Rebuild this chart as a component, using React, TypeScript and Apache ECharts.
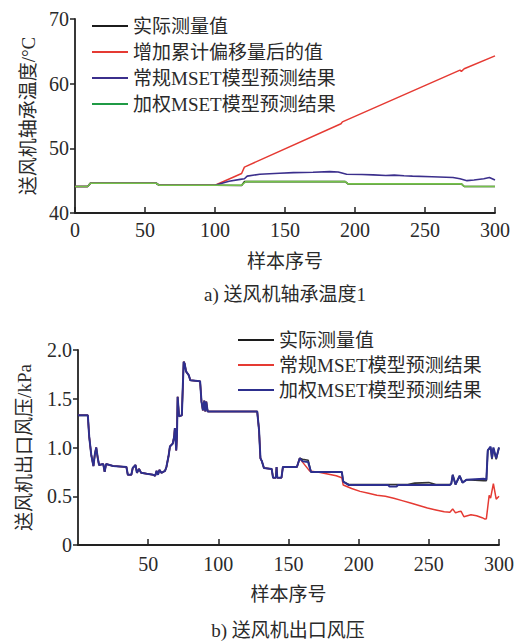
import React, { useEffect, useRef } from "react";
import * as echarts from "echarts";

// ---------- Chart a) 送风机轴承温度1 ----------
const tempNames = ["实际测量值", "增加累计偏移量后的值", "常规MSET模型预测结果", "加权MSET模型预测结果"];
const tempXTicks = [0, 50, 100, 150, 200, 250, 300];
const tempYTicks = [40, 50, 60, 70];

// samples 0-100: all series coincide
const tempShared: number[][] = [
  [0, 44.1], [9, 44.1], [11, 44.6], [58, 44.6], [60, 44.3], [100, 44.3],
];
const tempActualTail: number[][] = [
  [119, 44.25], [121, 44.85], [193, 44.85], [195, 44.5], [276, 44.5], [278, 44.1], [300, 44.1],
];
const tempDriftTail: number[][] = [
  [119, 46.1], [121, 47.1], [190, 53.8], [191, 54.1], [275, 62.1], [276, 61.9], [278, 62.3], [300, 64.3],
];
const tempConventionalTail: number[][] = [
  [105, 44.6], [110, 44.9], [118, 45.2], [121, 45.3], [123, 45.7], [132, 46.0], [146, 46.15],
  [156, 46.25], [170, 46.3], [182, 46.4], [188, 46.35], [194, 46.0], [205, 45.95], [213, 45.9],
  [222, 45.8], [228, 45.85], [235, 45.75], [241, 45.7], [255, 45.6], [270, 45.5], [275, 45.3],
  [280, 45.0], [285, 45.1], [292, 45.3], [296, 45.5], [300, 45.1],
];
const tempWeightedTail: number[][] = [
  [119, 44.3], [122, 44.85], [193, 44.85], [195, 44.5], [276, 44.5], [278, 44.1], [300, 44.1],
];

// ---------- Chart b) 送风机出口风压 ----------
const presNames = ["实际测量值", "常规MSET模型预测结果", "加权MSET模型预测结果"];
const presXTicks = [0, 50, 100, 150, 200, 250, 300];
const presYTicks = [0, 0.5, 1.0, 1.5, 2.0];

// samples 0-158: all series coincide
const presShared: number[][] = [
  [0, 1.33], [7, 1.33], [8, 1.11], [9.5, 0.92], [11, 0.81], [12, 0.93], [13, 1.0], [14, 0.9],
  [15, 0.82], [18, 0.83], [19, 0.75], [20, 0.83], [25, 0.81], [34.5, 0.8], [35.5, 0.72], [38, 0.72],
  [39, 0.79], [41, 0.82], [42, 0.74], [43.5, 0.78], [45, 0.74], [49, 0.73], [53.5, 0.72], [55, 0.71],
  [56, 0.76], [57, 0.72], [58, 0.77], [59.5, 0.74], [62, 0.76], [63, 0.8], [64.5, 0.91], [65.5, 1.01],
  [67.5, 1.04], [68.5, 1.11], [69, 1.2], [70, 0.97], [70.5, 1.11], [71, 1.52], [72, 1.32], [74, 1.33],
  [75.3, 1.88], [76, 1.86], [77, 1.78], [79, 1.74], [80, 1.69], [87, 1.68], [88, 1.47], [89, 1.38],
  [90, 1.48], [90.7, 1.37], [91.4, 1.47], [92.4, 1.37], [127.7, 1.37], [129, 1.18], [130, 0.89],
  [131, 0.86], [132.5, 0.79], [138, 0.78], [139, 0.69], [141, 0.69], [141.5, 0.8], [142, 0.69],
  [145, 0.69], [146, 0.8], [156, 0.8], [158, 0.89],
];
const presActualTail: number[][] = [
  [160, 0.88], [164, 0.87], [166, 0.75], [188, 0.75], [189, 0.65], [193, 0.62], [235, 0.62],
  [240, 0.635], [250, 0.64], [255, 0.62], [265, 0.62], [266, 0.63], [267, 0.72], [269, 0.62],
  [272, 0.71], [274, 0.64], [277, 0.67], [289, 0.66], [291, 0.66], [292, 0.97], [294, 1.0],
  [295, 0.88], [296, 0.99], [298, 0.88], [300, 1.0],
];
const presConventionalTail: number[][] = [
  [160, 0.85], [165, 0.76], [170, 0.75], [177, 0.73], [184, 0.71], [188, 0.69], [189, 0.615],
  [195, 0.58], [201, 0.55], [207, 0.53], [213, 0.51], [219, 0.5], [225, 0.48], [231, 0.455],
  [237, 0.43], [243, 0.405], [249, 0.38], [255, 0.36], [261, 0.34], [265, 0.335], [267, 0.37],
  [269, 0.33], [271, 0.34], [273, 0.345], [275, 0.29], [280, 0.31], [284, 0.3], [288, 0.28],
  [290, 0.265], [291, 0.27], [293, 0.51], [294, 0.48], [296, 0.63], [298, 0.47], [300, 0.5],
];
const presWeightedTail: number[][] = [
  [160, 0.86], [164, 0.85], [166, 0.75], [188, 0.75], [189, 0.65], [193, 0.615], [221, 0.615],
  [222, 0.6], [227, 0.6], [228, 0.615], [265, 0.615], [266, 0.63], [267, 0.72], [269, 0.62],
  [272, 0.71], [274, 0.64], [277, 0.67], [289, 0.68], [291, 0.67], [292, 0.97], [294, 1.01],
  [295, 0.89], [296, 1.0], [298, 0.89], [300, 1.0],
];

const FONT = "'Liberation Serif', 'Times New Roman', 'Noto Sans CJK SC', serif";
const TXT = "#2a2a2a";
const AX = "#222";

function legendItem(name: string, color: string, left: number, top: number) {
  return {
    show: true,
    left,
    top,
    padding: 0,
    orient: "horizontal",
    icon: "rect",
    itemWidth: 36,
    itemHeight: 2,
    selectedMode: false,
    data: [{ name, itemStyle: { color } }],
    textStyle: { fontFamily: FONT, fontSize: 19, color: TXT, lineHeight: 20 },
  };
}

function xAxis(min: number, max: number, ticks: number[], nameGap: number, labelMargin: number, hideMin: boolean) {
  return {
    type: "value",
    min,
    max,
    interval: ticks[1] - ticks[0],
    name: "样本序号",
    nameLocation: "middle",
    nameGap,
    nameTextStyle: { fontFamily: FONT, fontSize: 19, color: TXT },
    axisLine: { show: true, lineStyle: { color: AX, width: 1.8 } },
    axisTick: { show: true, inside: true, length: 6, lineStyle: { color: AX, width: 1.5 } },
    axisLabel: { fontFamily: FONT, fontSize: 20, color: TXT, margin: labelMargin, showMinLabel: !hideMin },
    splitLine: { show: false },
  };
}

function yAxis(min: number, max: number, ticks: number[], name: string, nameGap: number, fmt?: (v: number) => string) {
  return {
    type: "value",
    min,
    max,
    interval: ticks[1] - ticks[0],
    name,
    nameLocation: "middle",
    nameGap,
    nameTextStyle: { fontFamily: FONT, fontSize: 19, color: TXT },
    axisLine: { show: true, lineStyle: { color: AX, width: 1.8 } },
    axisTick: { show: true, inside: false, length: 5, lineStyle: { color: AX, width: 1.5 } },
    axisLabel: { fontFamily: FONT, fontSize: 20, color: TXT, margin: 6, formatter: fmt },
    splitLine: { show: false },
  };
}

function line(name: string, data: number[][], color: string, width: number, z: number) {
  return {
    type: "line",
    name,
    data,
    showSymbol: false,
    symbol: "none",
    lineStyle: { color, width },
    itemStyle: { color },
    z,
  };
}

export default function App() {
  const topRef = useRef<HTMLDivElement>(null);
  const botRef = useRef<HTMLDivElement>(null);

  useEffect(() => {
    const c1 = echarts.init(topRef.current!, undefined, { renderer: "svg" });
    const c2 = echarts.init(botRef.current!, undefined, { renderer: "svg" });

    const cBlack = "#1c1c1c";
    const cRed = "#e53a33";
    const cPurple = "#3b2f8c";
    const cGreen = "#74c24a";
    const cBlue = "#2d2f8e";

    c1.setOption({
      animation: false,
      backgroundColor: "#ffffff",
      grid: { left: 75, right: 26, top: 19, height: 194 },
      xAxis: xAxis(0, 300, tempXTicks, 39, 7, false),
      yAxis: yAxis(40, 70, tempYTicks, "送风机轴承温度/°C", 37),
      legend: [
        legendItem(tempNames[0], cBlack, 92, 16),
        legendItem(tempNames[1], cRed, 92, 42),
        legendItem(tempNames[2], cPurple, 92, 68),
        legendItem(tempNames[3], "#1f9a45", 92, 94),
      ],
      series: [
        line(tempNames[0], tempShared.concat(tempActualTail), cBlack, 1.6, 2),
        line(tempNames[1], tempShared.concat(tempDriftTail), cRed, 1.5, 3),
        line(tempNames[2], tempShared.concat(tempConventionalTail), cPurple, 1.6, 4),
        line(tempNames[3], tempShared.concat(tempWeightedTail), cGreen, 1.6, 5),
      ],
      graphic: [
        {
          type: "text",
          x: 285,
          y: 294,
          style: { text: "a) 送风机轴承温度1", fill: TXT, font: `19px ${FONT}`, align: "center", verticalAlign: "middle" },
        },
      ],
    });

    c2.setOption({
      animation: false,
      backgroundColor: "#ffffff",
      grid: { left: 78, right: 22, top: 30, height: 195 },
      xAxis: xAxis(0, 300, presXTicks, 40, 9, true),
      yAxis: yAxis(0, 2, presYTicks, "送风机出口风压/kPa", 44, (v: number) => (v === 0 ? "0" : v.toFixed(1))),
      legend: [
        legendItem(presNames[0], cBlack, 238, 10),
        legendItem(presNames[1], cRed, 238, 35),
        legendItem(presNames[2], cBlue, 238, 60),
      ],
      series: [
        line(presNames[0], presShared.concat(presActualTail), "#333333", 1.6, 2),
        line(presNames[1], presShared.concat(presConventionalTail), cRed, 1.5, 3),
        line(presNames[2], presShared.concat(presWeightedTail), cBlue, 2, 4),
      ],
      graphic: [
        {
          type: "text",
          x: 288,
          y: 310,
          style: { text: "b) 送风机出口风压", fill: TXT, font: `19px ${FONT}`, align: "center", verticalAlign: "middle" },
        },
      ],
    });

    return () => {
      c1.dispose();
      c2.dispose();
    };
  }, []);

  return (
    <div style={{ position: "fixed", left: 0, top: 0, width: 521, height: 641, background: "#fff" }}>
      <div ref={topRef} style={{ position: "absolute", left: 0, top: 0, width: 521, height: 320 }} />
      <div ref={botRef} style={{ position: "absolute", left: 0, top: 320, width: 521, height: 321 }} />
    </div>
  );
}
